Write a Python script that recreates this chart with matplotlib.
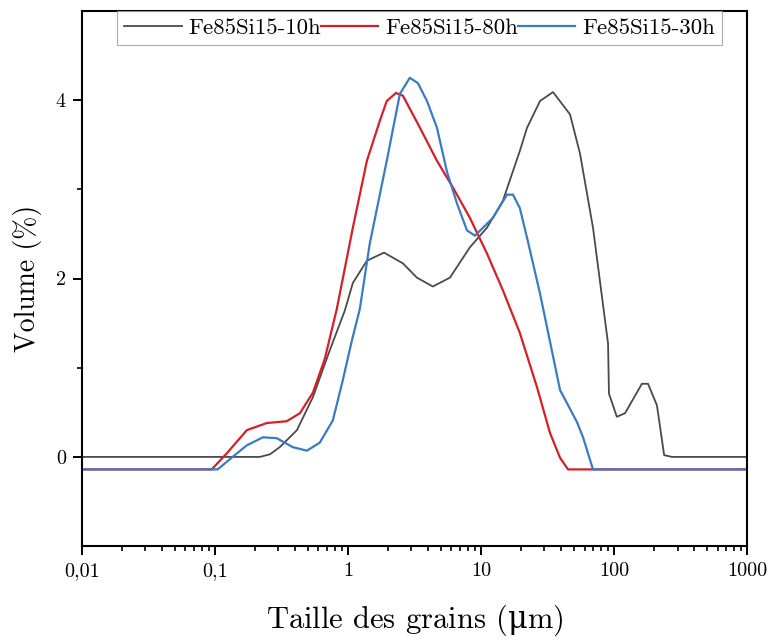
import matplotlib
matplotlib.use("Agg")
import matplotlib.pyplot as plt
from matplotlib.ticker import FixedLocator, NullFormatter

plt.rcParams['font.family'] = ['cmr10', 'DejaVu Serif']
plt.rcParams['mathtext.fontset'] = 'custom'
plt.rcParams['mathtext.rm'] = 'DejaVu Serif'
plt.rcParams['mathtext.it'] = 'DejaVu Serif:italic'

# ---- data ----
size_10h = [0.01, 0.218, 0.26, 0.308, 0.414, 0.546, 0.733, 0.948, 1.09, 1.39, 1.87,
            2.59, 3.30, 4.35, 5.85, 8.26, 11.1, 14.6, 19.6, 22.2, 27.8, 34.8, 46.7,
            55.5, 69.5, 90.2, 91.6, 105, 121, 162, 180, 210, 238, 273, 1000]
vol_10h = [0.0, 0.0, 0.03, 0.11, 0.30, 0.67, 1.20, 1.64, 1.95, 2.20, 2.29,
           2.17, 2.01, 1.91, 2.01, 2.35, 2.57, 2.87, 3.43, 3.69, 3.99, 4.09, 3.84,
           3.40, 2.57, 1.27, 0.71, 0.45, 0.49, 0.82, 0.82, 0.58, 0.02, 0.0, 0.0]

size_80h = [0.01, 0.0948, 0.123, 0.174, 0.246, 0.347, 0.436, 0.546, 0.671, 0.826,
            1.09, 1.39, 1.74, 1.96, 2.30, 2.59, 3.48, 4.67, 6.16, 8.26, 11.1, 14.6,
            19.6, 26.4, 33.0, 39.3, 45.1, 1000]
vol_80h = [-0.14, -0.14, 0.04, 0.30, 0.38, 0.40, 0.49, 0.72, 1.10, 1.66,
           2.57, 3.32, 3.77, 3.99, 4.08, 4.05, 3.69, 3.32, 3.02, 2.68, 2.28, 1.87,
           1.39, 0.78, 0.27, -0.01, -0.14, -0.14]

size_30h = [0.01, 0.105, 0.136, 0.174, 0.230, 0.292, 0.385, 0.492, 0.615, 0.771,
            0.916, 1.07, 1.23, 1.46, 1.96, 2.46, 2.92, 3.36, 3.93, 4.67, 5.55, 6.61,
            7.85, 9.01, 12.3, 15.7, 17.4, 19.6, 22.5, 27.8, 39.3, 52.7, 58.5, 69.5, 1000]
vol_30h = [-0.14, -0.14, 0.0, 0.13, 0.22, 0.21, 0.11, 0.07, 0.16, 0.41,
           0.86, 1.30, 1.66, 2.39, 3.32, 4.07, 4.25, 4.19, 3.99, 3.69, 3.20, 2.84,
           2.54, 2.48, 2.68, 2.94, 2.94, 2.79, 2.42, 1.83, 0.75, 0.39, 0.22, -0.14, -0.14]

x_ticks = [0.01, 0.1, 1, 10, 100, 1000]
x_ticklabels = ["0,01", "0,1", "1", "10", "100", "1000"]
y_ticks = [0, 2, 4]
y_ticklabels = ["0", "2", "4"]

# ---- figure ----
fig = plt.figure(figsize=(7.71, 6.41), dpi=100)
ax = fig.add_axes([0.106, 0.148, 0.863, 0.835])

ax.plot(size_10h, vol_10h, color="#4a4a4a", lw=1.3, label="Fe85Si15-10h")
ax.plot(size_80h, vol_80h, color="#d42027", lw=1.6, label="Fe85Si15-80h")
ax.plot(size_30h, vol_30h, color="#3a7cc3", lw=1.6, label="Fe85Si15-30h")

ax.set_xscale("log")
ax.set_xlim(0.01, 1000)
ax.set_ylim(-1, 5)

ax.xaxis.set_major_locator(FixedLocator(x_ticks))
ax.set_xticklabels(x_ticklabels)
minors = [m * 10.0 ** e for e in range(-2, 3) for m in range(2, 10)]
ax.xaxis.set_minor_locator(FixedLocator(minors))
ax.xaxis.set_minor_formatter(NullFormatter())

ax.yaxis.set_major_locator(FixedLocator(y_ticks))
ax.set_yticklabels(y_ticklabels)
ax.yaxis.set_minor_locator(FixedLocator([1, 3]))

ax.tick_params(which="major", direction="out", length=6.5, width=1.4,
               labelsize=14.5, top=False, right=False, pad=5)
ax.tick_params(which="minor", direction="out", length=3.5, width=1.2,
               top=False, right=False)
for s in ax.spines.values():
    s.set_linewidth(1.5)
    s.set_color("black")

ax.set_xlabel(r"Taille des grains ($\mathrm{\mu}$m)", fontsize=22, labelpad=16)
ax.set_ylabel("Volume (%)", fontsize=20, labelpad=10)

leg = ax.legend(loc="upper center", bbox_to_anchor=(0.508, 1.0), ncol=3,
                fontsize=16.5, frameon=True, fancybox=False, edgecolor="#999999",
                handlelength=2.5, handletextpad=0.3, columnspacing=0.0,
                borderpad=0.3, borderaxespad=0.0)
leg.get_frame().set_linewidth(0.8)

fig.savefig("out.png", dpi=100)
